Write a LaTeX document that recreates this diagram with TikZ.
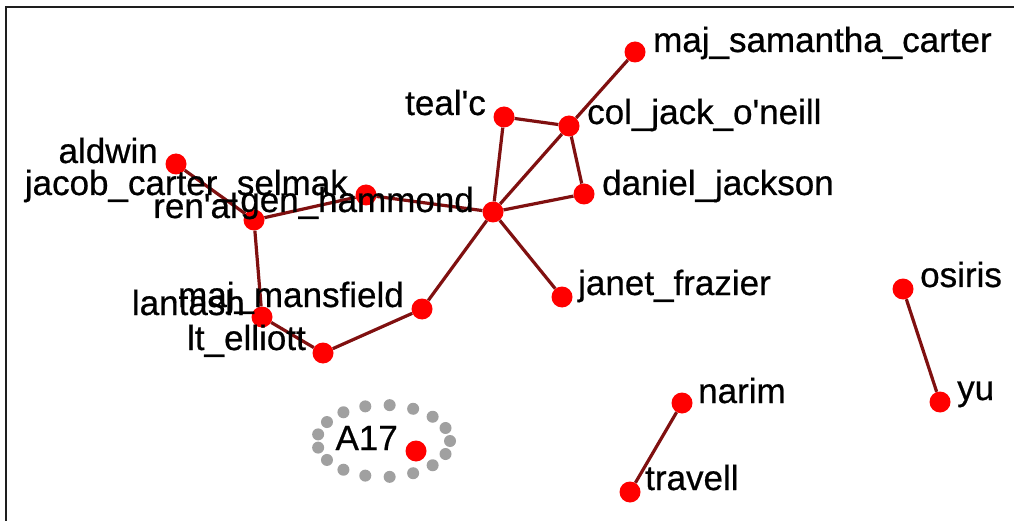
\documentclass[tikz,border=0pt]{standalone}
\usepackage{fontspec}
\newfontfamily\lblfont{Liberation Sans}[FakeBold=0.6]
\definecolor{edgec}{RGB}{128,16,16}
\definecolor{vtxc}{RGB}{255,0,0}
\definecolor{dotc}{RGB}{160,160,160}
\definecolor{framec}{RGB}{30,30,30}
\begin{document}
\begin{tikzpicture}[x=1pt,y=-1pt,
  vtx/.style={circle,fill=vtxc,draw=none,inner sep=0pt,minimum size=21pt},
  edge/.style={draw=edgec,line width=3.2pt},
  lbl/.style={inner sep=0pt,font=\lblfont\fontsize{35}{42}\selectfont,text=black},
  lr/.style={lbl,anchor=base west},
  ll/.style={lbl,anchor=base east}]
\useasboundingbox (0,0) rectangle (1014,521);
\fill[white] (0,0) rectangle (1014,521);
\draw[framec,line width=2pt] (5.5,521) -- (5.5,7) -- (1014,7);
% grey dotted ellipse of the group A17
\foreach \i in {0,...,16}
  \fill[dotc] ({383.5+66.5*cos(\i*360/17)},{441+36*sin(\i*360/17)}) circle (6);
% vertices
\node[vtx] (sam) at (635,52) {};
\node[vtx] (tealc) at (504,117) {};
\node[vtx] (jack) at (569,126) {};
\node[vtx] (daniel) at (584,194) {};
\node[vtx] (hammond) at (493,212) {};
\node[vtx] (jacob) at (366,195) {};
\node[vtx] (aldwin) at (176,164) {};
\node[vtx] (renal) at (254,220) {};
\node[vtx] (lantash) at (262,317) {};
\node[vtx] (mansfield) at (422,309) {};
\node[vtx] (elliott) at (323,353) {};
\node[vtx] (janet) at (562,297) {};
\node[vtx] (osiris) at (903,289) {};
\node[vtx] (yu) at (940,402) {};
\node[vtx] (narim) at (682,403) {};
\node[vtx] (travell) at (630,492) {};
\node[vtx] (a17) at (416,451) {};
% edges
\draw[edge] (sam) -- (jack);
\draw[edge] (jack) -- (hammond);
\draw[edge] (tealc) -- (jack);
\draw[edge] (tealc) -- (hammond);
\draw[edge] (jack) -- (daniel);
\draw[edge] (daniel) -- (hammond);
\draw[edge] (hammond) -- (janet);
\draw[edge] (hammond) -- (jacob);
\draw[edge] (jacob) -- (renal);
\draw[edge] (aldwin) -- (renal);
\draw[edge] (renal) -- (lantash);
\draw[edge] (lantash) -- (elliott);
\draw[edge] (elliott) -- (mansfield);
\draw[edge] (mansfield) -- (hammond);
\draw[edge] (osiris) -- (yu);
\draw[edge] (narim) -- (travell);
% labels
\node[lr] (sam-l) at (653,52) {maj\_samantha\_carter};
\node[ll] (tealc-l) at (486,115) {teal'c};
\node[lr] (jack-l) at (587,124) {col\_jack\_o'neill};
\node[lr] (daniel-l) at (602,195) {daniel\_jackson};
\node[ll] (hammond-l) at (474,212) {gen\_hammond};
\node[ll] (jacob-l) at (348,195) {jacob\_carter\_selmak};
\node[ll] (aldwin-l) at (158,163) {aldwin};
\node[ll] (renal-l) at (238,218) {ren'al};
\node[ll] (lantash-l) at (245,315) {lantash};
\node[ll] (mansfield-l) at (404,307) {maj\_mansfield};
\node[ll] (elliott-l) at (306,350) {lt\_elliott};
\node[lr] (janet-l) at (578,295) {janet\_frazier};
\node[lr] (osiris-l) at (920,287) {osiris};
\node[lr] (yu-l) at (957,400) {yu};
\node[lr] (narim-l) at (698,403) {narim};
\node[lr] (travell-l) at (645,490) {travell};
\node[ll] (a17-l) at (398,450) {A17};
\end{tikzpicture}
\end{document}
